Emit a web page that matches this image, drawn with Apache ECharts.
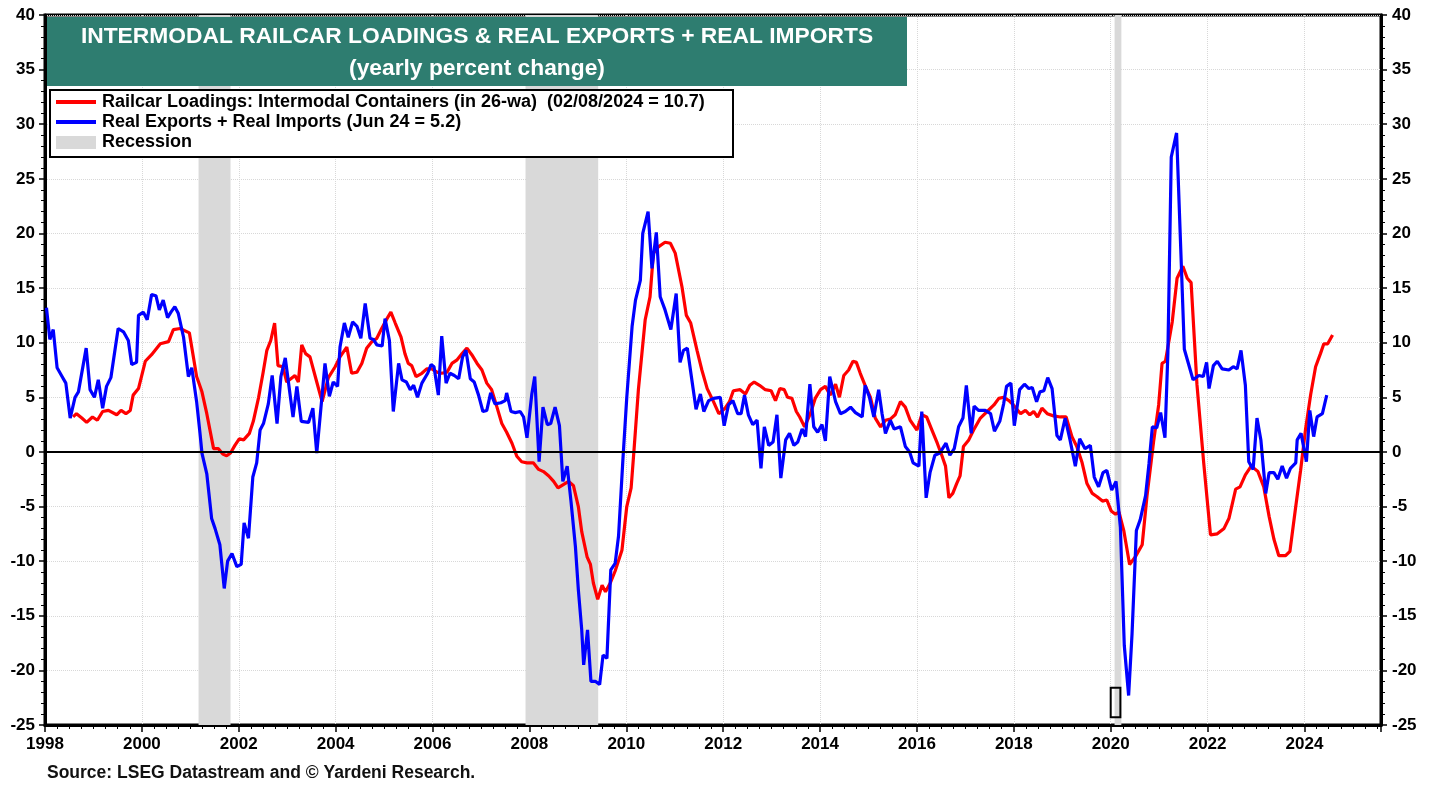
<!DOCTYPE html>
<html>
<head>
<meta charset="utf-8">
<script src="https://cdn.jsdelivr.net/npm/echarts@6/dist/echarts.min.js"></script>
<style>
  html, body { margin: 0; padding: 0; background: #fff; }
  #chart { width: 1438px; height: 785px; }
</style>
</head>
<body>
<div id="chart"></div>
<script>
// Railcar loadings: intermodal containers, 26-wa, yearly % change
const railYears = [1998.58, 1998.65, 1998.76, 1998.86, 1998.98, 1999.08, 1999.19, 1999.31, 1999.48, 1999.57, 1999.67, 1999.76, 1999.82, 1999.93,
  2000.07, 2000.20, 2000.38, 2000.55, 2000.65, 2000.79, 2000.98, 2001.13, 2001.24, 2001.34, 2001.48, 2001.58, 2001.67, 2001.75, 2001.83, 2001.92,
  2002.01, 2002.10, 2002.22, 2002.30, 2002.41, 2002.50, 2002.58, 2002.66, 2002.74, 2002.81, 2002.91, 2002.99, 2003.16, 2003.23, 2003.30, 2003.38,
  2003.47, 2003.61, 2003.72, 2003.85, 2003.99, 2004.09, 2004.23, 2004.33, 2004.44, 2004.54, 2004.64, 2004.75, 2004.85, 2004.95, 2005.06, 2005.14,
  2005.23, 2005.35, 2005.43, 2005.50, 2005.57, 2005.66, 2005.78, 2005.88, 2005.99, 2006.09, 2006.19, 2006.30, 2006.40, 2006.50, 2006.61, 2006.71,
  2006.81, 2006.92, 2007.02, 2007.12, 2007.22, 2007.33, 2007.43, 2007.53, 2007.64, 2007.74, 2007.84, 2007.95, 2008.08, 2008.19, 2008.29, 2008.40,
  2008.50, 2008.59, 2008.70, 2008.81, 2008.91, 2009.01, 2009.08, 2009.19, 2009.26, 2009.32, 2009.41, 2009.50, 2009.57, 2009.67, 2009.77, 2009.91,
  2010.01, 2010.10, 2010.16, 2010.25, 2010.39, 2010.49, 2010.56, 2010.67, 2010.80, 2010.91, 2011.01, 2011.15, 2011.24, 2011.33, 2011.46, 2011.56,
  2011.67, 2011.80, 2011.91, 2012.04, 2012.13, 2012.21, 2012.35, 2012.46, 2012.55, 2012.64, 2012.75, 2012.87, 2012.99, 2013.08, 2013.17, 2013.26,
  2013.33, 2013.42, 2013.51, 2013.58, 2013.68, 2013.80, 2013.90, 2014.01, 2014.11, 2014.21, 2014.32, 2014.40, 2014.49, 2014.59, 2014.68, 2014.75,
  2014.83, 2014.93, 2015.04, 2015.14, 2015.25, 2015.35, 2015.45, 2015.55, 2015.66, 2015.76, 2015.86, 2016.00, 2016.10, 2016.20, 2016.31, 2016.42,
  2016.52, 2016.59, 2016.66, 2016.74, 2016.82, 2016.89, 2016.96, 2017.07, 2017.17, 2017.31, 2017.45, 2017.59, 2017.69, 2017.79, 2017.90, 2017.99,
  2018.14, 2018.24, 2018.33, 2018.41, 2018.49, 2018.58, 2018.69, 2018.82, 2018.96, 2019.08, 2019.20, 2019.30, 2019.41, 2019.51, 2019.62, 2019.72,
  2019.83, 2019.92, 2020.01, 2020.10, 2020.17, 2020.27, 2020.39, 2020.51, 2020.65, 2020.75, 2020.89, 2020.99, 2021.06, 2021.13, 2021.27, 2021.37,
  2021.49, 2021.58, 2021.66, 2021.78, 2021.92, 2022.06, 2022.20, 2022.34, 2022.44, 2022.58, 2022.67, 2022.78, 2022.90, 2023.04, 2023.16, 2023.27,
  2023.37, 2023.47, 2023.61, 2023.70, 2023.82, 2023.92, 2024.02, 2024.13, 2024.23, 2024.33, 2024.40, 2024.48, 2024.58]
const railValues = [3.2, 3.5, 3.1, 2.7, 3.2, 2.9, 3.7, 3.8, 3.4, 3.8, 3.5, 3.8, 5.2, 5.8,
  8.3, 8.9, 9.9, 10.1, 11.2, 11.3, 10.9, 6.9, 5.5, 3.5, 0.3, 0.3, -0.2, -0.35, -0.1, 0.6,
  1.2, 1.1, 1.7, 2.8, 5.0, 7.2, 9.3, 10.2, 11.8, 7.9, 7.8, 6.4, 7.0, 6.4, 9.8, 9.0,
  8.7, 6.4, 4.6, 6.8, 7.8, 8.7, 9.6, 7.2, 7.3, 8.1, 9.5, 10.1, 10.4, 11.3, 12.2, 12.8,
  11.8, 10.5, 9.0, 8.1, 7.9, 6.9, 7.2, 7.6, 7.6, 7.3, 7.2, 7.3, 8.1, 8.4, 9.0, 9.5,
  8.9, 8.1, 7.5, 6.3, 5.7, 4.1, 2.6, 1.8, 0.8, -0.4, -0.9, -1.0, -1.0, -1.6, -1.8, -2.2,
  -2.7, -3.3, -3.0, -2.7, -3.1, -5.0, -7.3, -9.6, -10.3, -12.0, -13.5, -12.2, -12.8, -12.0, -10.9, -9.0,
  -5.0, -3.3, 0.2, 5.7, 12.1, 14.2, 18.2, 18.8, 19.2, 19.1, 18.2, 15.1, 12.5, 11.8, 9.3, 7.5,
  5.8, 4.6, 3.5, 4.0, 4.6, 5.6, 5.7, 5.3, 6.1, 6.4, 6.1, 5.7, 5.6, 4.7, 5.8, 5.7,
  5.0, 4.9, 3.7, 3.2, 2.3, 3.5, 4.9, 5.7, 6.0, 5.2, 6.2, 5.0, 7.0, 7.5, 8.3, 8.2,
  7.2, 6.1, 5.0, 3.1, 2.3, 2.9, 3.0, 3.4, 4.6, 4.1, 2.9, 2.0, 3.4, 3.2, 2.0, 0.8,
  -0.4, -1.3, -4.2, -3.8, -2.9, -2.2, 0.5, 1.1, 2.0, 3.1, 3.7, 4.3, 4.9, 5.0, 4.7, 4.3,
  3.5, 3.8, 3.4, 3.7, 3.2, 4.0, 3.5, 3.3, 3.2, 3.2, 1.4, 0.5, -1.0, -2.9, -3.8, -4.1,
  -4.5, -4.4, -5.4, -5.7, -5.5, -7.2, -10.3, -9.6, -8.5, -4.0, 1.1, 4.3, 8.1, 8.3, 11.9, 15.9,
  17.0, 15.9, 15.5, 6.2, -1.0, -7.6, -7.5, -7.0, -6.1, -3.4, -3.2, -2.1, -1.3, -1.8, -3.2, -5.9,
  -8.0, -9.5, -9.5, -9.1, -5.0, -1.7, 2.0, 5.3, 7.8, 9.0, 9.9, 9.9, 10.7]

// Real exports + real imports, yearly % change
const tradeYears = [1998.03, 1998.10, 1998.17, 1998.25, 1998.34, 1998.43, 1998.52, 1998.62, 1998.69, 1998.85, 1998.93, 1999.02, 1999.10, 1999.19,
  1999.27, 1999.36, 1999.51, 1999.62, 1999.72, 1999.79, 1999.89, 1999.93, 2000.03, 2000.11, 2000.20, 2000.29, 2000.36, 2000.44, 2000.53, 2000.60,
  2000.68, 2000.75, 2000.86, 2000.96, 2001.03, 2001.13, 2001.20, 2001.24, 2001.34, 2001.44, 2001.51, 2001.61, 2001.70, 2001.77, 2001.86, 2001.96,
  2002.05, 2002.11, 2002.20, 2002.29, 2002.37, 2002.44, 2002.51, 2002.61, 2002.69, 2002.79, 2002.87, 2002.96, 2003.12, 2003.20, 2003.29, 2003.44,
  2003.53, 2003.61, 2003.71, 2003.78, 2003.87, 2003.95, 2004.04, 2004.09, 2004.18, 2004.26, 2004.35, 2004.44, 2004.52, 2004.61, 2004.71, 2004.78,
  2004.85, 2004.96, 2005.02, 2005.11, 2005.19, 2005.30, 2005.37, 2005.46, 2005.54, 2005.61, 2005.69, 2005.78, 2005.90, 2005.97, 2006.03, 2006.12,
  2006.19, 2006.28, 2006.36, 2006.45, 2006.54, 2006.62, 2006.69, 2006.78, 2006.86, 2006.95, 2007.04, 2007.12, 2007.20, 2007.29, 2007.41, 2007.50,
  2007.53, 2007.62, 2007.71, 2007.81, 2007.88, 2007.95, 2008.05, 2008.11, 2008.20, 2008.28, 2008.37, 2008.44, 2008.53, 2008.62, 2008.69, 2008.78,
  2008.86, 2008.95, 2009.01, 2009.08, 2009.12, 2009.20, 2009.27, 2009.36, 2009.45, 2009.52, 2009.60, 2009.68, 2009.77, 2009.84, 2009.93, 2010.01,
  2010.12, 2010.19, 2010.29, 2010.34, 2010.45, 2010.53, 2010.62, 2010.70, 2010.80, 2010.92, 2011.03, 2011.11, 2011.18, 2011.26, 2011.35, 2011.44,
  2011.53, 2011.60, 2011.70, 2011.80, 2011.94, 2012.02, 2012.11, 2012.20, 2012.30, 2012.37, 2012.44, 2012.52, 2012.61, 2012.70, 2012.78, 2012.85,
  2012.94, 2013.03, 2013.11, 2013.19, 2013.29, 2013.37, 2013.46, 2013.54, 2013.63, 2013.70, 2013.79, 2013.87, 2013.95, 2014.04, 2014.11, 2014.20,
  2014.32, 2014.42, 2014.52, 2014.63, 2014.73, 2014.87, 2014.93, 2015.02, 2015.11, 2015.21, 2015.28, 2015.35, 2015.45, 2015.53, 2015.66, 2015.76,
  2015.85, 2015.92, 2016.04, 2016.10, 2016.19, 2016.27, 2016.37, 2016.47, 2016.60, 2016.68, 2016.77, 2016.86, 2016.95, 2017.02, 2017.12, 2017.18,
  2017.27, 2017.41, 2017.52, 2017.60, 2017.71, 2017.79, 2017.85, 2017.94, 2018.01, 2018.12, 2018.22, 2018.31, 2018.38, 2018.47, 2018.54, 2018.62,
  2018.70, 2018.79, 2018.89, 2018.96, 2019.06, 2019.16, 2019.27, 2019.36, 2019.47, 2019.58, 2019.66, 2019.75, 2019.84, 2019.92, 2020.02, 2020.11,
  2020.20, 2020.28, 2020.37, 2020.44, 2020.53, 2020.61, 2020.72, 2020.79, 2020.86, 2020.95, 2021.03, 2021.12, 2021.18, 2021.25, 2021.36, 2021.45,
  2021.52, 2021.61, 2021.70, 2021.82, 2021.91, 2021.98, 2022.03, 2022.12, 2022.20, 2022.30, 2022.44, 2022.53, 2022.61, 2022.69, 2022.78, 2022.85,
  2022.94, 2023.02, 2023.10, 2023.20, 2023.27, 2023.37, 2023.45, 2023.54, 2023.63, 2023.71, 2023.82, 2023.85, 2023.93, 2024.04, 2024.11, 2024.19,
  2024.26, 2024.37, 2024.46]
const tradeValues = [13.2, 10.3, 11.2, 7.7, 7.0, 6.3, 3.1, 5.0, 5.5, 9.5, 5.7, 5.0, 6.6, 4.0,
  6.0, 6.8, 11.3, 11.0, 10.2, 8.0, 8.2, 12.5, 12.8, 12.1, 14.4, 14.3, 13.0, 13.9, 12.3, 12.8,
  13.3, 12.7, 10.5, 6.9, 7.7, 4.6, 1.7, -0.1, -2.0, -6.1, -7.0, -8.5, -12.5, -10.0, -9.3, -10.5,
  -10.3, -6.5, -7.9, -2.3, -1.0, 2.0, 2.6, 4.4, 7.0, 2.6, 6.9, 8.6, 3.2, 6.0, 2.8, 2.7,
  4.0, -0.1, 4.7, 8.1, 5.1, 6.4, 6.0, 9.6, 11.8, 10.5, 11.9, 11.5, 10.4, 13.6, 10.4, 10.3,
  9.8, 9.7, 12.2, 10.2, 3.7, 8.1, 6.6, 6.4, 5.7, 6.1, 5.0, 6.3, 7.2, 8.0, 7.8, 5.2,
  10.6, 6.3, 7.2, 7.0, 6.7, 8.7, 9.3, 6.7, 6.4, 5.2, 3.7, 3.8, 5.4, 4.4, 4.5, 4.7,
  5.4, 3.7, 3.6, 3.7, 3.2, 1.3, 5.3, 6.9, -0.9, 4.1, 2.5, 2.6, 4.1, 2.4, -2.7, -1.3,
  -4.6, -8.7, -12.6, -16.3, -19.5, -16.3, -21.0, -21.0, -21.3, -18.6, -18.9, -10.8, -10.2, -7.7, -0.7, 5.0,
  11.5, 13.9, 15.7, 20.0, 22.0, 16.8, 20.1, 14.2, 13.0, 11.2, 14.5, 8.2, 9.3, 9.5, 6.7, 3.9,
  5.3, 3.7, 4.7, 4.9, 5.0, 2.4, 4.3, 4.7, 3.5, 3.5, 5.2, 3.4, 2.5, 2.9, -1.5, 2.3,
  0.6, 0.9, 3.4, -2.4, 1.1, 1.7, 0.6, 0.9, 2.1, 1.4, 6.2, 2.3, 1.8, 2.5, 1.0, 6.9,
  4.6, 3.5, 3.7, 4.1, 3.6, 3.2, 6.1, 5.0, 3.2, 5.7, 3.5, 1.7, 2.9, 2.1, 2.3, 0.5,
  0.0, -1.0, -1.3, 3.7, -4.2, -1.9, -0.3, -0.1, 0.8, -0.3, 0.3, 2.3, 3.1, 6.1, 1.7, 4.2,
  3.8, 3.8, 3.5, 1.9, 2.8, 4.4, 6.0, 6.3, 2.4, 5.7, 6.2, 5.8, 5.9, 4.6, 5.5, 5.6,
  6.8, 5.8, 1.5, 1.1, 3.1, 1.1, -1.3, 1.2, 0.3, 0.6, -2.3, -3.2, -1.9, -1.7, -3.5, -2.7,
  -6.9, -17.7, -22.3, -16.7, -7.2, -6.2, -4.0, -1.1, 2.3, 2.2, 3.6, 1.3, 9.0, 27.0, 29.2, 18.1,
  9.4, 8.0, 6.6, 7.0, 6.9, 8.2, 5.8, 7.9, 8.3, 7.6, 7.5, 7.8, 7.6, 9.3, 6.1, -0.9,
  -1.6, 3.1, 1.1, -3.8, -1.9, -1.9, -2.5, -1.3, -2.4, -1.5, -1.0, 1.1, 1.7, -0.9, 3.8, 1.4,
  3.2, 3.5, 5.2]

// NBER recessions (start, end)
const recessionStarts = [2001.17, 2007.92, 2020.08]
const recessionEnds = [2001.83, 2009.42, 2020.22]

const railName = 'Railcar Loadings: Intermodal Containers (in 26-wa)  (02/08/2024 = 10.7)'
const tradeName = 'Real Exports + Real Imports (Jun 24 = 5.2)'
const titleLines = ['INTERMODAL RAILCAR LOADINGS & REAL EXPORTS + REAL IMPORTS', '(yearly percent change)']
const sourceText = 'Source: LSEG Datastream and \u00a9 Yardeni Research.'

const font = '"Liberation Sans", Arial, sans-serif'

function pairs (xs, ys) {
  return xs.map((x, i) => [x, ys[i]])
}

let chart = echarts.init(document.getElementById('chart'))

let bands = recessionStarts.map((s, i) => [{ xAxis: s }, { xAxis: recessionEnds[i] }])
// small outlined box marking the 2020 trough
bands.push([
  { xAxis: 2020.0, yAxis: -21.6, itemStyle: { color: 'rgba(0,0,0,0)', borderColor: '#000', borderWidth: 2 } },
  { xAxis: 2020.2, yAxis: -24.3 }
])

let yAxisBase = {
  type: 'value',
  min: -25,
  max: 40,
  interval: 5,
  axisLine: { show: true, lineStyle: { color: '#000', width: 3 } },
  axisTick: { show: true, length: 6, lineStyle: { color: '#000', width: 1.5 } },
  minorTick: { show: true, splitNumber: 5, length: 4, lineStyle: { color: '#000', width: 1 } },
  axisLabel: { color: '#000', fontFamily: font, fontWeight: 'bold', fontSize: 17, margin: 10 },
  splitLine: { show: true, lineStyle: { color: '#d8d8d8', type: 'dotted', width: 1 } }
}

let option = {
  animation: false,
  backgroundColor: '#fff',
  grid: { left: 45, right: 57, top: 15, bottom: 60, show: true, borderColor: '#000', borderWidth: 3, backgroundColor: 'transparent' },
  xAxis: {
    type: 'value',
    min: 1998,
    max: 2025.58,
    interval: 2,
    axisLine: { show: true, onZero: false, lineStyle: { color: '#000', width: 3 } },
    axisTick: { show: true, length: 7, lineStyle: { color: '#000', width: 1.5 } },
    minorTick: { show: true, splitNumber: 8, length: 4, lineStyle: { color: '#000', width: 1 } },
    axisLabel: {
      color: '#000', fontFamily: font, fontWeight: 'bold', fontSize: 17, margin: 11,
      formatter: v => (v <= 2024 ? String(v) : '')
    },
    splitLine: { show: true, lineStyle: { color: '#d8d8d8', type: 'dotted', width: 1 } }
  },
  yAxis: [
    Object.assign({}, yAxisBase, { position: 'left' }),
    Object.assign({}, yAxisBase, { position: 'right', axisLabel: Object.assign({}, yAxisBase.axisLabel, { margin: 11 }) })
  ],
  series: [
    {
      name: 'Recession',
      type: 'line',
      data: [],
      z: 1,
      silent: true,
      markArea: {
        silent: true,
        itemStyle: { color: '#d9d9d9' },
        data: bands
      },
      markLine: {
        silent: true,
        symbol: 'none',
        label: { show: false },
        lineStyle: { color: '#000', width: 2, type: 'solid' },
        data: [{ yAxis: 0 }]
      }
    },
    {
      name: railName,
      type: 'line',
      data: pairs(railYears, railValues),
      showSymbol: false,
      z: 3,
      lineStyle: { color: '#ff0000', width: 3.2 },
      itemStyle: { color: '#ff0000' }
    },
    {
      name: tradeName,
      type: 'line',
      data: pairs(tradeYears, tradeValues),
      showSymbol: false,
      z: 4,
      lineStyle: { color: '#0000ff', width: 3.2 },
      itemStyle: { color: '#0000ff' }
    }
  ],
  graphic: [
    {
      type: 'rect', z: 100, shape: { x: 47, y: 17, width: 860, height: 69 },
      style: { fill: '#2e7d70' }
    },
    {
      type: 'text', z: 101, x: 477, y: 37,
      style: { text: titleLines[0], fill: '#fff', font: 'bold 22.8px ' + font, textAlign: 'center', textVerticalAlign: 'middle' }
    },
    {
      type: 'text', z: 101, x: 477, y: 69,
      style: { text: titleLines[1], fill: '#fff', font: 'bold 22.8px ' + font, textAlign: 'center', textVerticalAlign: 'middle' }
    },
    {
      type: 'rect', z: 100, shape: { x: 50, y: 90, width: 683, height: 67 },
      style: { fill: '#fff', stroke: '#000', lineWidth: 2 }
    },
    { type: 'line', z: 101, shape: { x1: 56, y1: 102, x2: 96, y2: 102 }, style: { stroke: '#ff0000', lineWidth: 4 } },
    { type: 'line', z: 101, shape: { x1: 56, y1: 122, x2: 96, y2: 122 }, style: { stroke: '#0000ff', lineWidth: 4 } },
    { type: 'rect', z: 101, shape: { x: 56, y: 136, width: 40, height: 13 }, style: { fill: '#d9d9d9' } },
    {
      type: 'text', z: 101, x: 102, y: 102,
      style: { text: railName, fill: '#000', font: 'bold 18px ' + font, textVerticalAlign: 'middle' }
    },
    {
      type: 'text', z: 101, x: 102, y: 122,
      style: { text: tradeName, fill: '#000', font: 'bold 18px ' + font, textVerticalAlign: 'middle' }
    },
    {
      type: 'text', z: 101, x: 102, y: 142,
      style: { text: 'Recession', fill: '#000', font: 'bold 18px ' + font, textVerticalAlign: 'middle' }
    },
    {
      type: 'text', z: 101, x: 47, y: 773,
      style: { text: sourceText, fill: '#111', font: 'bold 17.5px ' + font, textVerticalAlign: 'middle' }
    }
  ]
}

chart.setOption(option)
window.addEventListener('resize', function () {
  chart.resize()
})
</script>
</body>
</html>
